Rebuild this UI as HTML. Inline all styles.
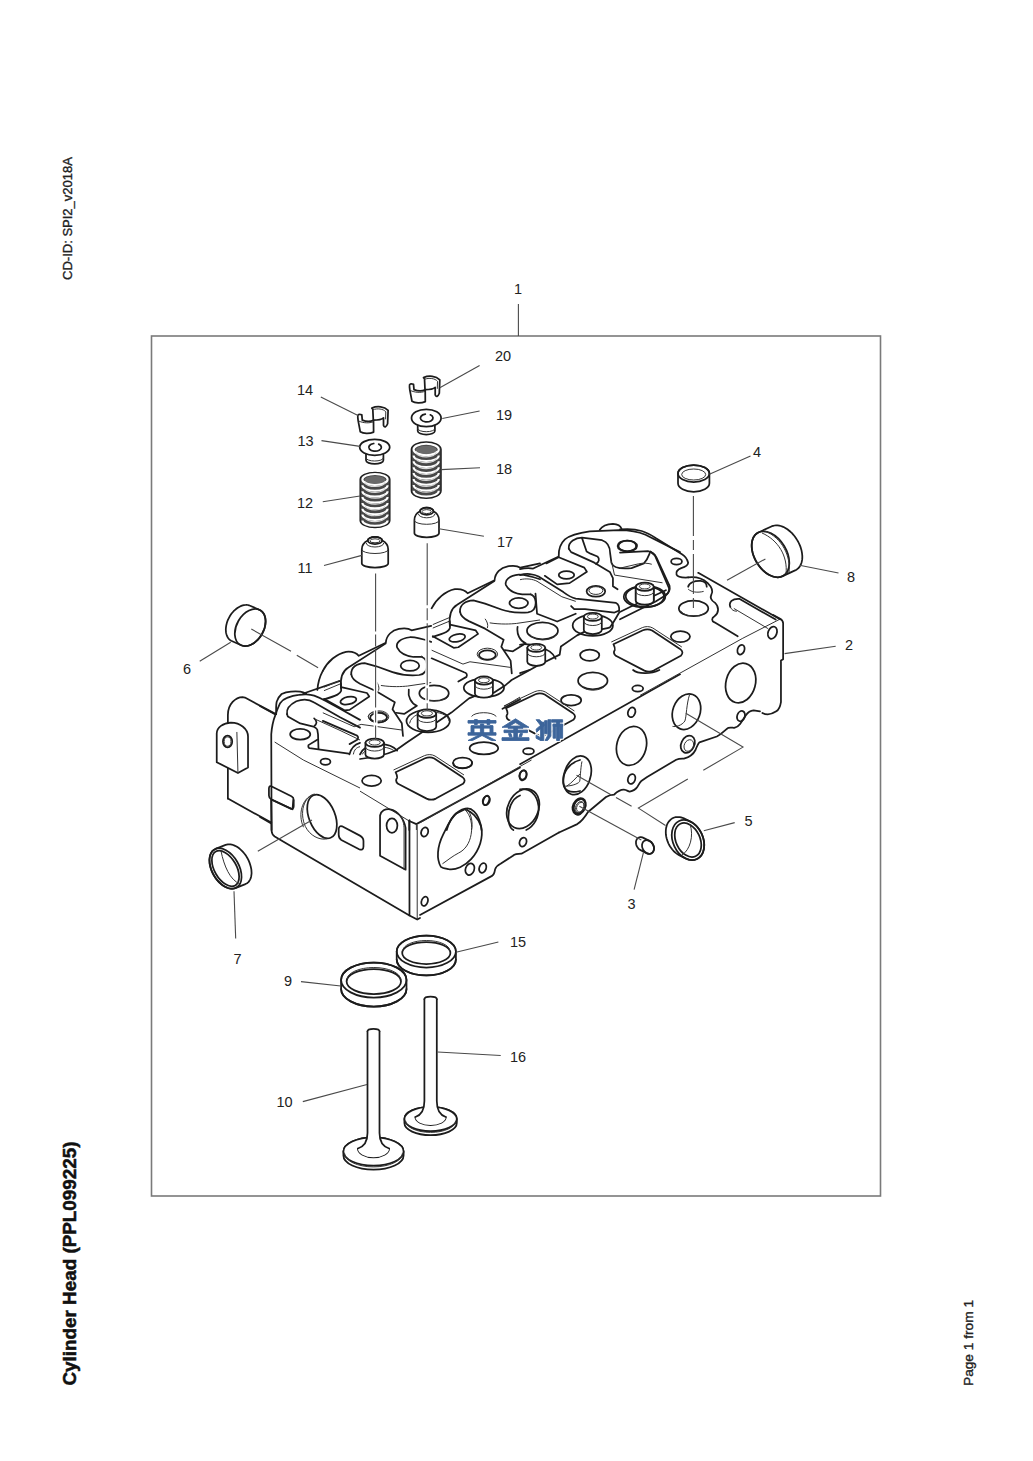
<!DOCTYPE html>
<html><head><meta charset="utf-8">
<style>
html,body{margin:0;padding:0;background:#fff;}
body{width:1033px;height:1461px;overflow:hidden;position:relative;}
svg{position:absolute;left:0;top:0;}
text{font-family:"Liberation Sans",sans-serif;}
.d{fill:none;stroke:#1c1c1c;stroke-width:1.75;stroke-linejoin:round;stroke-linecap:round;}
.f{fill:#fff;stroke:none;}
.w{fill:#fff;stroke:#1c1c1c;stroke-width:1.75;stroke-linejoin:round;}
.t{fill:none;stroke:#333;stroke-width:1;}
.l{fill:none;stroke:#4a4a4a;stroke-width:1.1;}
.n{font-size:14.5px;fill:#222;}
</style></head><body>
<svg width="1033" height="1461" viewBox="0 0 1033 1461">
<!-- side texts -->
<text transform="translate(71.6,280) rotate(-90)" font-size="13.5" fill="#222" stroke="#222" stroke-width="0.35" textLength="123" lengthAdjust="spacingAndGlyphs">CD-ID: SPI2_v2018A</text>
<text transform="translate(76,1385.5) rotate(-90)" font-size="18.5" font-weight="bold" fill="#111" stroke="#111" stroke-width="0.5" textLength="244" lengthAdjust="spacingAndGlyphs">Cylinder Head (PPL099225)</text>
<text transform="translate(973,1386) rotate(-90)" font-size="13.5" fill="#222" stroke="#222" stroke-width="0.35" textLength="86" lengthAdjust="spacingAndGlyphs">Page 1 from 1</text>
<!-- frame -->
<rect x="151.5" y="336" width="729" height="860" fill="none" stroke="#7a7a7a" stroke-width="1.6"/>
<line class="l" x1="518.4" y1="304" x2="518.4" y2="336"/>
<!-- labels -->
<g class="n">
<text x="514" y="294">1</text>
<text x="845" y="650">2</text>
<text x="627.5" y="909">3</text>
<text x="753" y="457">4</text>
<text x="744.5" y="826">5</text>
<text x="183" y="673.5">6</text>
<text x="233.5" y="964">7</text>
<text x="847" y="582">8</text>
<text x="284" y="986">9</text>
<text x="276.5" y="1107">10</text>
<text x="297.5" y="573">11</text>
<text x="297" y="507.5">12</text>
<text x="297.5" y="446">13</text>
<text x="297" y="394.5">14</text>
<text x="510" y="946.5">15</text>
<text x="510" y="1062">16</text>
<text x="497" y="547">17</text>
<text x="496" y="474">18</text>
<text x="496" y="420">19</text>
<text x="495" y="361">20</text>
</g>
<g transform="translate(0,0) scale(1.000000)">
<path class="d" vector-effect="non-scaling-stroke" d="M360,759 C369,758 383,756 395.6,750.5 L406.5,742.8 L451.4,712.6 L469,698.4 L480.7,693.6 L494.2,692.6 L505.8,684.9 L511.6,680 L527.1,671.4 L536.5,666.2 L559.7,654.6 L560.9,646.5 L577.1,635.4 L585.3,631.4 C595,630 605,629 610,627.3 C614,622 617,616 619.4,612.3 L631,606.5 L665.9,590.2"/>
</g>
<g transform="translate(200,670) scale(0.154895)">
<path class="f" vector-effect="non-scaling-stroke" d="M180,830 L180,290 C180,220 230,175 275,175 L290,178 L490,285 L462,1033 L460,985 Z"/>
<path class="d" vector-effect="non-scaling-stroke" d="M180,830 L180,290 C180,220 230,175 275,175 L290,178 L490,285"/>
<path class="d" vector-effect="non-scaling-stroke" d="M180,830 L460,985"/>
<path class="w" vector-effect="non-scaling-stroke" d="M108,410 C108,370 150,342 200,340 C260,340 310,380 310,430 L310,630 L245,665 L108,595 Z"/>
<path class="t" vector-effect="non-scaling-stroke" d="M238,400 L245,665"/>
<path class="d" vector-effect="non-scaling-stroke" d="M148,462 A30,38 0 1 0 208,462 A30,38 0 1 0 148,462Z"/>
<path class="t" vector-effect="non-scaling-stroke" d="M156,462 A22,30 0 1 0 200,462 A22,30 0 1 0 156,462Z"/>
<path class="d" vector-effect="non-scaling-stroke" d="M462,1033 L460,415 C465,350 475,320 487,290 C500,250 510,230 517,215 C530,195 545,186 562,180 C590,168 615,162 637,160 C660,157 675,156 687,157 C705,158 720,160 737,165 C765,175 790,188 812,200 L904,250 L1033,322"/>
<path class="d" vector-effect="non-scaling-stroke" d="M492,285 C490,240 493,215 495,205 C505,180 515,165 527,155 C545,145 565,140 587,139 C615,138 635,138 647,140 C665,143 677,149 687,154"/>
<path class="d" vector-effect="non-scaling-stroke" d="M387,232 L487,287"/>
<path class="d" vector-effect="non-scaling-stroke" d="M667,152 L904,70"/>
<path class="d" vector-effect="non-scaling-stroke" d="M562,285 C557,255 577,225 622,202 C667,185 707,190 737,210 L904,305 L1033,372"/>
<path class="d" vector-effect="non-scaling-stroke" d="M562,285 L567,300 L647,345 L732,365 C745,372 755,378 757,385 L762,415 L765,510"/>
<path class="d" vector-effect="non-scaling-stroke" d="M757,450 L700,485 C698,495 700,502 707,505 L960,540"/>
<path class="d" vector-effect="non-scaling-stroke" d="M737,312 C745,318 752,330 752,340 C750,350 745,356 740,360"/>
<path class="t" vector-effect="non-scaling-stroke" d="M745,318 L904,390 L1033,452"/>
<path class="d" vector-effect="non-scaling-stroke" d="M582,415 A65,35 0 1 0 712,415 A65,35 0 1 0 582,415Z"/>
<path class="t" vector-effect="non-scaling-stroke" d="M482,465 L667,581 L1033,762"/>
<path class="d" vector-effect="non-scaling-stroke" d="M778,592 A32,20 0 1 0 842,592 A32,20 0 1 0 778,592Z"/>
<path class="d" vector-effect="non-scaling-stroke" d="M965,545 C975,500 1000,480 1033,470"/>
<path class="t" vector-effect="non-scaling-stroke" d="M990,545 C995,515 1010,500 1033,495"/>
<path class="d" vector-effect="non-scaling-stroke" d="M460,750 L590,815 C600,820 605,830 605,840 L605,880 C605,895 595,900 585,895 L460,835 C450,830 445,820 445,810 L445,765 C445,750 455,748 460,750 Z"/>
<path class="d" vector-effect="non-scaling-stroke" d="M710.1,977.5 A84,148 -22 1 0 865.9,914.5 A84,148 -22 1 0 710.1,977.5Z"/>
<path class="t" vector-effect="non-scaling-stroke" d="M740,800 C670,820 640,920 680,1010 C710,1070 770,1100 820,1090"/>
<path class="t" vector-effect="non-scaling-stroke" d="M728,805 C660,830 630,930 668,1015"/>
</g>
<g transform="translate(360,670) scale(0.154895)">
<path class="d" vector-effect="non-scaling-stroke" d="M0,545 C30,470 180,455 240,520"/>
<path class="t" vector-effect="non-scaling-stroke" d="M15,545 C40,490 170,480 225,525"/>
<path class="d" vector-effect="non-scaling-stroke" d="M300,330 A140,72 0 1 0 580,330 A140,72 0 1 0 300,330Z"/>
<path class="t" vector-effect="non-scaling-stroke" d="M320,345 C330,290 400,270 470,272 C540,275 570,300 575,330"/>
<path class="d" vector-effect="non-scaling-stroke" d="M670,115 A130,60 0 1 0 930,115 A130,60 0 1 0 670,115Z"/>
<path class="d" vector-effect="non-scaling-stroke" d="M383,150 A95,50 0 1 0 573,150 A95,50 0 1 0 383,150Z"/>
<path class="t" vector-effect="non-scaling-stroke" d="M385,160 C400,190 450,200 500,198 C540,195 565,185 570,170"/>
<path class="t" vector-effect="non-scaling-stroke" d="M53,300 A62,30 0 1 0 177,300 A62,30 0 1 0 53,300Z"/>
<path class="f" vector-effect="non-scaling-stroke" d="M35,470 A60,27.0 0 0 1 155,470 L155,545 A60,27.0 0 0 1 35,545 Z"/>
<path class="d" vector-effect="non-scaling-stroke" d="M35,470 L35,545 A60,27.0 0 0 0 155,545 L155,470"/>
<path class="d" vector-effect="non-scaling-stroke" d="M35,470 A60,27.0 0 1 0 155,470 A60,27.0 0 1 0 35,470Z"/>
<path class="t" vector-effect="non-scaling-stroke" d="M59.0,468 A36.0,16.8 0 1 0 131.0,468 A36.0,16.8 0 1 0 59.0,468Z"/>
<path class="t" vector-effect="non-scaling-stroke" d="M35,496.25 A60,27.0 0 0 0 155,496.25"/>
<path class="f" vector-effect="non-scaling-stroke" d="M372,282 A60,27.0 0 0 1 492,282 L492,367 A60,27.0 0 0 1 372,367 Z"/>
<path class="d" vector-effect="non-scaling-stroke" d="M372,282 L372,367 A60,27.0 0 0 0 492,367 L492,282"/>
<path class="d" vector-effect="non-scaling-stroke" d="M372,282 A60,27.0 0 1 0 492,282 A60,27.0 0 1 0 372,282Z"/>
<path class="t" vector-effect="non-scaling-stroke" d="M396.0,280 A36.0,16.8 0 1 0 468.0,280 A36.0,16.8 0 1 0 396.0,280Z"/>
<path class="t" vector-effect="non-scaling-stroke" d="M372,311.75 A60,27.0 0 0 0 492,311.75"/>
<path class="f" vector-effect="non-scaling-stroke" d="M742,68 A58,26.1 0 0 1 858,68 L858,153 A58,26.1 0 0 1 742,153 Z"/>
<path class="d" vector-effect="non-scaling-stroke" d="M742,68 L742,153 A58,26.1 0 0 0 858,153 L858,68"/>
<path class="d" vector-effect="non-scaling-stroke" d="M742,68 A58,26.1 0 1 0 858,68 A58,26.1 0 1 0 742,68Z"/>
<path class="t" vector-effect="non-scaling-stroke" d="M765.2,66 A34.8,16.240000000000002 0 1 0 834.8,66 A34.8,16.240000000000002 0 1 0 765.2,66Z"/>
<path class="t" vector-effect="non-scaling-stroke" d="M742,97.75 A58,26.1 0 0 0 858,97.75"/>
<path class="d" vector-effect="non-scaling-stroke" d="M13,715 A62,35 0 1 0 137,715 A62,35 0 1 0 13,715Z"/>
<path class="d" vector-effect="non-scaling-stroke" d="M600,600 A62,35 0 1 0 724,600 A62,35 0 1 0 600,600Z"/>
<path class="d" vector-effect="non-scaling-stroke" d="M708,505 A92,40 0 1 0 892,505 A92,40 0 1 0 708,505Z"/>
<path class="t" vector-effect="non-scaling-stroke" d="M720,300 C740,270 850,265 880,300"/>
<path class="d" vector-effect="non-scaling-stroke" d="M920,250 L1033,190"/>
<path class="t" vector-effect="non-scaling-stroke" d="M930,235 L1033,175"/>
<path class="t" vector-effect="non-scaling-stroke" d="M0,782 L318,975"/>
<path class="d" vector-effect="non-scaling-stroke" d="M318,975 L364,995 L1033,630"/>
<path class="d" vector-effect="non-scaling-stroke" d="M318,975 L318,1033"/>
<path class="t" vector-effect="non-scaling-stroke" d="M364,995 L364,1033"/>
<path class="d" vector-effect="non-scaling-stroke" d="M560,1033 C580,960 620,910 680,895 C720,885 760,920 780,1000 L785,1033"/>
<path class="t" vector-effect="non-scaling-stroke" d="M690,895 C720,930 730,990 720,1033"/>
<path class="d" vector-effect="non-scaling-stroke" d="M798.1,835.8 A18,32 20 1 0 831.9,848.2 A18,32 20 1 0 798.1,835.8Z"/>
<path class="d" vector-effect="non-scaling-stroke" d="M1033,810 C980,830 950,900 960,980 C965,1010 975,1025 990,1033"/>
</g>
<g transform="translate(520,670) scale(0.154895)">
<path class="d" vector-effect="non-scaling-stroke" d="M375,70 A95,55 0 1 0 565,70 A95,55 0 1 0 375,70Z"/>
<path class="t" vector-effect="non-scaling-stroke" d="M385,90 C400,120 440,130 470,130 C510,130 545,115 555,95"/>
<path class="d" vector-effect="non-scaling-stroke" d="M725,120 A35,20 0 1 0 795,120 A35,20 0 1 0 725,120Z"/>
<path class="d" vector-effect="non-scaling-stroke" d="M265,195 A65,35 0 1 0 395,195 A65,35 0 1 0 265,195Z"/>
<path class="d" vector-effect="non-scaling-stroke" d="M20,525 A35,20 0 1 0 90,525 A35,20 0 1 0 20,525Z"/>
<path class="d" vector-effect="non-scaling-stroke" d="M730,0 C760,25 840,30 900,0"/>
<path class="d" vector-effect="non-scaling-stroke" d="M0,608 L1033,28"/>
<path class="d" vector-effect="non-scaling-stroke" d="M0,20 L60,0"/>
<path class="d" vector-effect="non-scaling-stroke" d="M0,770 C60,760 110,800 120,880 C125,950 90,1010 40,1033"/>
<path class="d" vector-effect="non-scaling-stroke" d="M-1.3,674.3 A22,33 15 1 0 41.3,685.7 A22,33 15 1 0 -1.3,674.3Z"/>
<path class="d" vector-effect="non-scaling-stroke" d="M289.2,653.7 A85,125 18 1 0 450.8,706.3 A85,125 18 1 0 289.2,653.7Z"/>
<path class="t" vector-effect="non-scaling-stroke" d="M400,590 C390,640 390,700 385,720 C370,740 320,750 290,750"/>
<path class="d" vector-effect="non-scaling-stroke" d="M628.2,465.4 A95,128 15 1 0 811.8,514.6 A95,128 15 1 0 628.2,465.4Z"/>
<path class="d" vector-effect="non-scaling-stroke" d="M345.7,863.1 A40,55 25 1 0 418.3,896.9 A40,55 25 1 0 345.7,863.1Z"/>
<path class="t" vector-effect="non-scaling-stroke" d="M362.3,874.4 A25,38 25 1 0 407.7,895.6 A25,38 25 1 0 362.3,874.4Z"/>
</g>
<g transform="translate(640,580) scale(0.154895)">
<path class="d" vector-effect="non-scaling-stroke" d="M860,226 L905,250 C918,258 924,265 924,280 L924,511 L910,520 L910,788 C905,820 895,838 880,848 C850,868 815,872 790,858"/>
<path class="t" vector-effect="non-scaling-stroke" d="M0,745 L660,378 L905,252"/>
<path class="d" vector-effect="non-scaling-stroke" d="M828.7,330.4 A28,40 20 1 0 881.3,349.6 A28,40 20 1 0 828.7,330.4Z"/>
<path class="d" vector-effect="non-scaling-stroke" d="M631.3,442.5 A22,32 20 1 0 672.7,457.5 A22,32 20 1 0 631.3,442.5Z"/>
<path class="d" vector-effect="non-scaling-stroke" d="M558.2,640.4 A95,130 15 1 0 741.8,689.6 A95,130 15 1 0 558.2,640.4Z"/>
<path class="d" vector-effect="non-scaling-stroke" d="M217.3,819.9 A88,118 20 1 0 382.7,880.1 A88,118 20 1 0 217.3,819.9Z"/>
<path class="t" vector-effect="non-scaling-stroke" d="M320,740 C300,800 300,880 290,910 C270,940 230,950 210,945"/>
</g>
<g transform="translate(260,800) scale(0.154895)">
<path class="d" vector-effect="non-scaling-stroke" d="M72,0 L75,200 C76,215 80,225 95,235 L152,270 L965,745 L1015,772 L1033,762"/>
<path class="d" vector-effect="non-scaling-stroke" d="M965,130 L965,745"/>
<path class="t" vector-effect="non-scaling-stroke" d="M1015,160 L1015,772"/>
<path class="d" vector-effect="non-scaling-stroke" d="M0,110 L70,150"/>
<path class="d" vector-effect="non-scaling-stroke" d="M775,100 C780,70 810,55 840,60 C890,70 930,120 940,180 L940,450 L775,360 Z"/>
<path class="t" vector-effect="non-scaling-stroke" d="M880,75 C915,100 928,140 930,180 L930,450"/>
<path class="d" vector-effect="non-scaling-stroke" d="M817,165 A35,47 0 1 0 887,165 A35,47 0 1 0 817,165Z"/>
<path class="d" vector-effect="non-scaling-stroke" d="M530,170 L645,230 C660,238 668,250 668,265 L668,300 C668,320 655,325 640,318 L525,258 C512,250 508,240 508,225 L508,190 C508,172 518,165 530,170 Z"/>
<path class="d" vector-effect="non-scaling-stroke" d="M80,0 L210,60 L215,0"/>
</g>
<g transform="translate(420,760) scale(0.154895)">
<path class="d" vector-effect="non-scaling-stroke" d="M0,1000 L465,748 C480,740 482,720 485,705 C490,690 500,680 520,670 L600,618 C615,605 635,605 655,605 L897,468"/>
<path class="t" vector-effect="non-scaling-stroke" d="M0,405 L720,0"/>
<path class="d" vector-effect="non-scaling-stroke" d="M215,20 C220,45 250,55 280,52 C320,50 340,35 335,10"/>
<path class="d" vector-effect="non-scaling-stroke" d="M9.3,457.5 A22,30 20 1 0 50.7,472.5 A22,30 20 1 0 9.3,457.5Z"/>
<path class="d" vector-effect="non-scaling-stroke" d="M407.3,254.5 A22,30 20 1 0 448.7,269.5 A22,30 20 1 0 407.3,254.5Z"/>
<path class="d" vector-effect="non-scaling-stroke" d="M644.3,89.5 A22,30 20 1 0 685.7,104.5 A22,30 20 1 0 644.3,89.5Z"/>
<path class="d" vector-effect="non-scaling-stroke" d="M644.3,522.5 A22,30 20 1 0 685.7,537.5 A22,30 20 1 0 644.3,522.5Z"/>
<path class="d" vector-effect="non-scaling-stroke" d="M295.7,695.4 A28,38 20 1 0 348.3,714.6 A28,38 20 1 0 295.7,695.4Z"/>
<path class="d" vector-effect="non-scaling-stroke" d="M384.3,689.5 A22,32 20 1 0 425.7,704.5 A22,32 20 1 0 384.3,689.5Z"/>
<path class="d" vector-effect="non-scaling-stroke" d="M11.2,905.2 A20,30 20 1 0 48.8,918.8 A20,30 20 1 0 11.2,905.2Z"/>
<path class="d" vector-effect="non-scaling-stroke" d="M135,690 C105,640 110,560 150,480 C180,420 200,370 235,345 L290,318 C330,330 375,370 395,430 C410,500 385,580 330,640 C290,685 230,712 185,705 C160,700 145,698 135,690 Z"/>
<path class="t" vector-effect="non-scaling-stroke" d="M290,320 C330,360 340,420 330,480 C320,540 290,580 250,600 C210,620 175,650 145,670"/>
<path class="d" vector-effect="non-scaling-stroke" d="M576.2,273.6 A98,130 25 1 0 753.8,356.4 A98,130 25 1 0 576.2,273.6Z"/>
<path class="d" vector-effect="non-scaling-stroke" d="M1033,0 C960,20 920,80 925,150 C930,200 970,215 1033,200"/>
<path class="t" vector-effect="non-scaling-stroke" d="M945,170 C980,150 1010,110 1033,90"/>
<path class="d" vector-effect="non-scaling-stroke" d="M1033,255 C1000,260 985,300 995,335 C1005,355 1020,355 1033,350"/>
</g>
<g transform="translate(520,510) scale(0.154895)">
<path class="d" vector-effect="non-scaling-stroke" d="M0,382 C30,375 60,375 85,378 L250,300 C248,260 258,220 290,190 C320,165 360,150 450,138 L640,130 C700,130 760,138 810,160 L1033,272"/>
<path class="d" vector-effect="non-scaling-stroke" d="M515,128 C530,105 560,92 600,90 C630,92 650,105 655,120"/>
<path class="d" vector-effect="non-scaling-stroke" d="M315,250 C310,205 360,178 400,178 L530,195 C568,208 582,240 582,280 L590,340 C600,370 650,382 720,375 L800,345 C825,320 832,290 842,268 L870,292 L962,505 C965,525 955,545 930,555"/>
<path class="d" vector-effect="non-scaling-stroke" d="M400,180 L430,268 L455,282 L500,300 C515,315 512,335 490,348"/>
<path class="d" vector-effect="non-scaling-stroke" d="M315,250 L330,272 L480,340 L580,400 L600,440 L600,492 L630,512"/>
<path class="t" vector-effect="non-scaling-stroke" d="M590,330 L610,420 L920,470"/>
<path class="d" vector-effect="non-scaling-stroke" d="M0,420 C40,408 90,412 120,430 L280,530 C300,545 330,565 360,572 L620,600 C640,610 642,630 640,650 L610,662 L420,640 L350,640 L330,620"/>
<path class="t" vector-effect="non-scaling-stroke" d="M0,450 C40,440 80,445 110,460 L270,560 L360,590"/>
<path class="d" vector-effect="non-scaling-stroke" d="M100,540 L110,670 L240,720 L360,670"/>
<path class="d" vector-effect="non-scaling-stroke" d="M170,345 L250,305 L415,372 L432,398 L320,472 L240,480 L160,425"/>
<path class="d" vector-effect="non-scaling-stroke" d="M250,420 A50,25 0 1 0 350,420 A50,25 0 1 0 250,420Z"/>
<path class="d" vector-effect="non-scaling-stroke" d="M430,525 A60,35 0 1 0 550,525 A60,35 0 1 0 430,525Z"/>
<path class="t" vector-effect="non-scaling-stroke" d="M445,520 A45,25 0 1 0 535,520 A45,25 0 1 0 445,520Z"/>
<path class="d" vector-effect="non-scaling-stroke" d="M630,232 A60,35 0 1 0 750,232 A60,35 0 1 0 630,232Z"/>
<path class="d" vector-effect="non-scaling-stroke" d="M45,780 A100,55 0 1 0 245,780 A100,55 0 1 0 45,780Z"/>
<path class="t" vector-effect="non-scaling-stroke" d="M60,800 C80,830 120,840 160,838 C200,835 230,820 240,800"/>
<path class="d" vector-effect="non-scaling-stroke" d="M670,560 A130,68 0 1 0 930,560 A130,68 0 1 0 670,560Z"/>
<path class="d" vector-effect="non-scaling-stroke" d="M340,745 A130,68 0 1 0 600,745 A130,68 0 1 0 340,745Z"/>
<path class="d" vector-effect="non-scaling-stroke" d="M0,870 C40,860 200,880 230,960"/>
<path class="f" vector-effect="non-scaling-stroke" d="M747,500 A58,26.1 0 0 1 863,500 L863,585 A58,26.1 0 0 1 747,585 Z"/>
<path class="d" vector-effect="non-scaling-stroke" d="M747,500 L747,585 A58,26.1 0 0 0 863,585 L863,500"/>
<path class="d" vector-effect="non-scaling-stroke" d="M747,500 A58,26.1 0 1 0 863,500 A58,26.1 0 1 0 747,500Z"/>
<path class="t" vector-effect="non-scaling-stroke" d="M770.2,498 A34.8,16.240000000000002 0 1 0 839.8,498 A34.8,16.240000000000002 0 1 0 770.2,498Z"/>
<path class="t" vector-effect="non-scaling-stroke" d="M747,529.75 A58,26.1 0 0 0 863,529.75"/>
<path class="f" vector-effect="non-scaling-stroke" d="M412,690 A58,26.1 0 0 1 528,690 L528,775 A58,26.1 0 0 1 412,775 Z"/>
<path class="d" vector-effect="non-scaling-stroke" d="M412,690 L412,775 A58,26.1 0 0 0 528,775 L528,690"/>
<path class="d" vector-effect="non-scaling-stroke" d="M412,690 A58,26.1 0 1 0 528,690 A58,26.1 0 1 0 412,690Z"/>
<path class="t" vector-effect="non-scaling-stroke" d="M435.2,688 A34.8,16.240000000000002 0 1 0 504.8,688 A34.8,16.240000000000002 0 1 0 435.2,688Z"/>
<path class="t" vector-effect="non-scaling-stroke" d="M412,719.75 A58,26.1 0 0 0 528,719.75"/>
<path class="f" vector-effect="non-scaling-stroke" d="M47,890 A58,26.1 0 0 1 163,890 L163,980 A58,26.1 0 0 1 47,980 Z"/>
<path class="d" vector-effect="non-scaling-stroke" d="M47,890 L47,980 A58,26.1 0 0 0 163,980 L163,890"/>
<path class="d" vector-effect="non-scaling-stroke" d="M47,890 A58,26.1 0 1 0 163,890 A58,26.1 0 1 0 47,890Z"/>
<path class="t" vector-effect="non-scaling-stroke" d="M70.2,888 A34.8,16.240000000000002 0 1 0 139.8,888 A34.8,16.240000000000002 0 1 0 70.2,888Z"/>
<path class="t" vector-effect="non-scaling-stroke" d="M47,921.5 A58,26.1 0 0 0 163,921.5"/>
<path class="d" vector-effect="non-scaling-stroke" d="M388,938 A62,36 0 1 0 512,938 A62,36 0 1 0 388,938Z"/>
</g>
<g transform="translate(620,500) scale(0.154895)">
<path class="d" vector-effect="non-scaling-stroke" d="M0,190 C50,185 100,188 140,200 C180,212 200,225 230,245 L400,350 C425,365 435,385 440,405 C440,425 420,432 395,440 C370,450 360,465 365,482 C372,498 400,502 440,500"/>
<path class="d" vector-effect="non-scaling-stroke" d="M505,470 L1033,770"/>
<path class="d" vector-effect="non-scaling-stroke" d="M440,500 C480,495 530,505 565,535 C590,560 605,585 590,610 C580,630 590,650 615,665 C640,690 640,730 610,750 C590,762 590,780 610,790 L760,880"/>
<path class="d" vector-effect="non-scaling-stroke" d="M330,397 A35,20 0 1 0 400,397 A35,20 0 1 0 330,397Z"/>
<path class="d" vector-effect="non-scaling-stroke" d="M380,700 A95,50 0 1 0 570,700 A95,50 0 1 0 380,700Z"/>
<path class="t" vector-effect="non-scaling-stroke" d="M390,715 C410,740 440,748 475,748 C515,748 545,738 560,718"/>
<path class="d" vector-effect="non-scaling-stroke" d="M440,560 C445,535 480,520 520,522 C550,525 560,545 560,560"/>
<path class="t" vector-effect="non-scaling-stroke" d="M440,575 C460,595 500,600 540,590"/>
<path class="d" vector-effect="non-scaling-stroke" d="M712,690 C700,660 725,635 770,638 L1005,772"/>
<path class="t" vector-effect="non-scaling-stroke" d="M735,700 L955,830"/>
<path class="t" vector-effect="non-scaling-stroke" d="M712,690 C720,710 735,718 755,718"/>
<path class="d" vector-effect="non-scaling-stroke" d="M328,882 A62,36 0 1 0 452,882 A62,36 0 1 0 328,882Z"/>
<path class="d" vector-effect="non-scaling-stroke" d="M0,340 L180,330 C205,335 225,350 235,370 L320,555 C325,580 315,600 295,615 L230,655 L0,770"/>
<path class="t" vector-effect="non-scaling-stroke" d="M0,440 L120,412 C150,405 185,408 205,415"/>
<path class="d" vector-effect="non-scaling-stroke" d="M37,622 A128,68 0 1 0 293,622 A128,68 0 1 0 37,622Z"/>
<path class="f" vector-effect="non-scaling-stroke" d="M102,560 A58,26.1 0 0 1 218,560 L218,650 A58,26.1 0 0 1 102,650 Z"/>
<path class="d" vector-effect="non-scaling-stroke" d="M102,560 L102,650 A58,26.1 0 0 0 218,650 L218,560"/>
<path class="d" vector-effect="non-scaling-stroke" d="M102,560 A58,26.1 0 1 0 218,560 A58,26.1 0 1 0 102,560Z"/>
<path class="t" vector-effect="non-scaling-stroke" d="M125.2,558 A34.8,16.240000000000002 0 1 0 194.8,558 A34.8,16.240000000000002 0 1 0 125.2,558Z"/>
<path class="t" vector-effect="non-scaling-stroke" d="M102,591.5 A58,26.1 0 0 0 218,591.5"/>
<path class="d" vector-effect="non-scaling-stroke" d="M-10,297 A60,35 0 1 0 110,297 A60,35 0 1 0 -10,297Z"/>
</g>
<g transform="translate(0,0) scale(1.000000)">
<path class="d" vector-effect="non-scaling-stroke" d="M559,832.5 L577.3,824.1 C582,821 585,817 588,812 L606,797 C609,795 611,794.5 614.2,794.5 C618,791 620,789.5 623.9,789.7 C627,790 628,791.5 629.7,791.6 C633,791 636,789 637.4,786.8 C639,784 640,782 641.3,781 L647.1,777.1 L676.2,759.7 C679,758.5 681,758.7 683.9,758.7 C690,757 694,753 695.5,750 C697,746 698,743.5 699.4,742.3 L716.8,736.5 C722,734 726,729 728.4,727.8 C731,727 733,728 734.2,727.8 C737,727 739,725.5 740.1,723.9 L745.9,715.2 C748,712 751,710.5 753.6,710.3 L760,711.3"/>
<path class="d" vector-effect="non-scaling-stroke" d="M628.2,711.1 A3.6,5 20 1 0 635.0,713.5 A3.6,5 20 1 0 628.2,711.1Z"/>
<path class="d" vector-effect="non-scaling-stroke" d="M628.2,777.8 A3.6,5 20 1 0 635.0,780.2 A3.6,5 20 1 0 628.2,777.8Z"/>
<path class="d" vector-effect="non-scaling-stroke" d="M737.4,714.8 A3.8,5.2 20 1 0 744.6,717.4 A3.8,5.2 20 1 0 737.4,714.8Z"/>
<path class="d" vector-effect="non-scaling-stroke" d="M574.4,803.9 A5.5,7.5 25 1 0 584.4,808.5 A5.5,7.5 25 1 0 574.4,803.9Z"/>
<path class="t" vector-effect="non-scaling-stroke" d="M577.2,805.7 A3.5,5 25 1 0 583.6,808.7 A3.5,5 25 1 0 577.2,805.7Z"/>
<path class="d" vector-effect="non-scaling-stroke" d="M681.9,741.5 A6.5,8.5 25 1 0 693.7,746.9 A6.5,8.5 25 1 0 681.9,741.5Z"/>
<path class="t" vector-effect="non-scaling-stroke" d="M684.7,743.6 A4.5,6 25 1 0 692.9,747.4 A4.5,6 25 1 0 684.7,743.6Z"/>
</g>
<g transform="translate(311.2,632.6) scale(0.116171)">
<path class="d" vector-effect="non-scaling-stroke" d="M100,330 C140,250 220,180 300,165 C350,160 390,175 410,200 L642,88 C646,22 696,-20 755,-32 C805,-41 847,-32 864,-20 L1033,-57"/>
<path class="d" vector-effect="non-scaling-stroke" d="M258,480 C248,400 262,335 320,300 L640,95"/>
<path class="d" vector-effect="non-scaling-stroke" d="M345,360 C340,300 390,265 460,262 L560,290 L700,340 C760,360 850,372 930,365 C985,355 1000,320 995,270 C990,235 970,215 950,210 L880,210 C800,200 760,170 740,130 C725,85 770,50 850,40 C900,38 960,55 1033,80"/>
<path class="d" vector-effect="non-scaling-stroke" d="M345,360 C350,400 380,420 420,440 L560,505 L720,600 L700,660 L780,780 L790,890"/>
<path class="t" vector-effect="non-scaling-stroke" d="M100,690 L370,810 L430,790 L790,840"/>
<path class="d" vector-effect="non-scaling-stroke" d="M100,760 L380,880 C400,885 410,900 400,920 L330,960"/>
<path class="d" vector-effect="non-scaling-stroke" d="M110,570 L290,670 L330,665 L500,550 L480,520 L258,470"/>
<path class="t" vector-effect="non-scaling-stroke" d="M110,470 L252,410"/>
<path class="t" vector-effect="non-scaling-stroke" d="M110,500 L255,440"/>
<path class="d" vector-effect="non-scaling-stroke" d="M255,440 L258,500 C250,525 230,540 110,575"/>
<path class="d" vector-effect="non-scaling-stroke" d="M251.5,599.6 A70,32 -12 1 0 388.5,570.4 A70,32 -12 1 0 251.5,599.6Z"/>
<path class="t" vector-effect="non-scaling-stroke" d="M560,420 C575,440 590,470 580,500"/>
<path class="t" vector-effect="non-scaling-stroke" d="M492,725 A88,52 0 1 0 668,725 A88,52 0 1 0 492,725Z"/>
<path class="d" vector-effect="non-scaling-stroke" d="M508,732 A72,40 0 1 0 652,732 A72,40 0 1 0 508,732Z"/>
<path class="d" vector-effect="non-scaling-stroke" d="M770,285 A80,45 0 1 0 930,285 A80,45 0 1 0 770,285Z"/>
<path class="t" vector-effect="non-scaling-stroke" d="M600,455 C700,470 780,465 830,460 L1033,430"/>
<path class="d" vector-effect="non-scaling-stroke" d="M840,490 C830,550 860,610 910,630 L800,700 L730,690"/>
<path class="t" vector-effect="non-scaling-stroke" d="M950,200 C965,215 985,230 1000,240"/>
</g>
<g transform="translate(420,570) scale(0.116171)">
<path class="d" vector-effect="non-scaling-stroke" d="M100,330 C140,250 220,180 300,165 C350,160 390,175 410,200 L642,88 C646,22 696,-20 755,-32 C805,-41 847,-32 864,-20 L1033,-57"/>
<path class="d" vector-effect="non-scaling-stroke" d="M258,480 C248,400 262,335 320,300 L640,95"/>
<path class="d" vector-effect="non-scaling-stroke" d="M345,360 C340,300 390,265 460,262 L560,290 L700,340 C760,360 850,372 930,365 C985,355 1000,320 995,270 C990,235 970,215 950,210 L880,210 C800,200 760,170 740,130 C725,85 770,50 850,40 C900,38 960,55 1033,80"/>
<path class="d" vector-effect="non-scaling-stroke" d="M345,360 C350,400 380,420 420,440 L560,505 L720,600 L700,660 L780,780 L790,890"/>
<path class="t" vector-effect="non-scaling-stroke" d="M100,690 L370,810 L430,790 L790,840"/>
<path class="d" vector-effect="non-scaling-stroke" d="M100,760 L380,880 C400,885 410,900 400,920 L330,960"/>
<path class="d" vector-effect="non-scaling-stroke" d="M110,570 L290,670 L330,665 L500,550 L480,520 L258,470"/>
<path class="t" vector-effect="non-scaling-stroke" d="M110,470 L252,410"/>
<path class="t" vector-effect="non-scaling-stroke" d="M110,500 L255,440"/>
<path class="d" vector-effect="non-scaling-stroke" d="M255,440 L258,500 C250,525 230,540 110,575"/>
<path class="d" vector-effect="non-scaling-stroke" d="M251.5,599.6 A70,32 -12 1 0 388.5,570.4 A70,32 -12 1 0 251.5,599.6Z"/>
<path class="t" vector-effect="non-scaling-stroke" d="M560,420 C575,440 590,470 580,500"/>
<path class="t" vector-effect="non-scaling-stroke" d="M492,725 A88,52 0 1 0 668,725 A88,52 0 1 0 492,725Z"/>
<path class="d" vector-effect="non-scaling-stroke" d="M508,732 A72,40 0 1 0 652,732 A72,40 0 1 0 508,732Z"/>
<path class="d" vector-effect="non-scaling-stroke" d="M770,285 A80,45 0 1 0 930,285 A80,45 0 1 0 770,285Z"/>
<path class="t" vector-effect="non-scaling-stroke" d="M600,455 C700,470 780,465 830,460 L1033,430"/>
<path class="d" vector-effect="non-scaling-stroke" d="M840,490 C830,550 860,610 910,630 L800,700 L730,690"/>
<path class="t" vector-effect="non-scaling-stroke" d="M950,200 C965,215 985,230 1000,240"/>
</g>
<g transform="translate(0,0) scale(1.000000)">
<path class="d" vector-effect="non-scaling-stroke" d="M317.4,690 C317.8,684 319.5,677 322.8,670.9"/>
</g>
<path class="w" d="M357.8,417.3 C357.3,414.3 359.3,413.8 361.8,414.8 L362.3,420.1 C366.3,421.8 370.3,421.8 373.5,420.3 L373.6,432.1 C369.3,434.1 363.3,433.8 360.3,431.8 L358.1,420.3 Z"/>
<path class="t" d="M358.3,420.8 C363.3,423.3 369.3,423.3 373.5,421.8"/>
<path class="w" d="M371.8,408.1 C377.3,405.7 384.3,406.5 388.1,410.3 L387.6,423.8 C386.3,427.3 384.3,427.8 383.5,425.3 L383.5,417.8 C381.3,419.8 376.3,420.1 373.3,420.1 L372.8,409.3 Z"/>
<path class="t" d="M372.8,409.8 C377.3,408.1 383.3,408.8 385.8,411.8 L385.6,419.3"/>
<path class="w" d="M409.5,386.8 C409.0,383.8 411.0,383.3 413.5,384.3 L414.0,389.6 C418.0,391.3 422.0,391.3 425.2,389.8 L425.3,401.6 C421.0,403.6 415.0,403.3 412.0,401.3 L409.8,389.8 Z"/>
<path class="t" d="M410.0,390.3 C415.0,392.8 421.0,392.8 425.2,391.3"/>
<path class="w" d="M423.5,377.6 C429.0,375.2 436.0,376.0 439.8,379.8 L439.3,393.3 C438.0,396.8 436.0,397.3 435.2,394.8 L435.2,387.3 C433.0,389.3 428.0,389.6 425.0,389.6 L424.5,378.8 Z"/>
<path class="t" d="M424.5,379.3 C429.0,377.6 435.0,378.3 437.5,381.3 L437.3,388.8"/>
<path class="w" d="M366.0,449.3 V460.3 A8.7,3.6 0 0 0 383.4,460.3 V449.3 Z"/>
<path class="t" d="M366.0,457.8 A8.7,3.2 0 0 0 383.4,457.8"/>
<ellipse class="w" cx="374.7" cy="447.3" rx="15" ry="8" />
<path class="d" d="M373.7,443.5 A6.3,3.9 0 1 0 378.7,444.1" stroke-width="1.3"/>
<path class="w" d="M417.716,420.0 V431.0 A8.584,3.6 0 0 0 434.884,431.0 V420.0 Z"/>
<path class="t" d="M417.716,428.5 A8.584,3.2 0 0 0 434.884,428.5"/>
<ellipse class="w" cx="426.3" cy="418.0" rx="14.8" ry="8.7" />
<path class="d" d="M425.3,414.2 A6.3,3.9 0 1 0 430.3,414.8" stroke-width="1.3"/>
<path fill="#484848" stroke="#1e1e1e" stroke-width="1.3" d="M360.1,479.5 A14.9,7.2 0 0 1 389.9,479.5 V520.45 A14.9,7.2 0 0 1 360.1,520.45 Z"/>
<ellipse cx="375" cy="480.3" rx="10.7" ry="4.2" fill="#6a6a6a"/>
<path d="M364.6,481.0 A10.4,3.8000000000000003 0 0 0 385.4,481.0" fill="none" stroke="#e0e0e0" stroke-width="1.3"/>
<ellipse cx="375" cy="479.5" rx="12.600000000000001" ry="5.4" fill="none" stroke="#fff" stroke-width="2.0"/>
<path d="M362.40000000000003,485.35 A12.600000000000001,5.4 0 0 0 387.59999999999997,485.35" fill="none" stroke="#fff" stroke-width="2.0"/>
<path d="M365.1,482.425 A9.9,4.2 0 0 0 384.9,482.13250000000005" fill="none" stroke="#d8d8d8" stroke-width="1.2"/>
<path d="M362.40000000000003,491.2 A12.600000000000001,5.4 0 0 0 387.59999999999997,491.2" fill="none" stroke="#fff" stroke-width="2.0"/>
<path d="M365.1,488.275 A9.9,4.2 0 0 0 384.9,487.9825" fill="none" stroke="#d8d8d8" stroke-width="1.2"/>
<path d="M362.40000000000003,497.05 A12.600000000000001,5.4 0 0 0 387.59999999999997,497.05" fill="none" stroke="#fff" stroke-width="2.0"/>
<path d="M365.1,494.125 A9.9,4.2 0 0 0 384.9,493.83250000000004" fill="none" stroke="#d8d8d8" stroke-width="1.2"/>
<path d="M362.40000000000003,502.9 A12.600000000000001,5.4 0 0 0 387.59999999999997,502.9" fill="none" stroke="#fff" stroke-width="2.0"/>
<path d="M365.1,499.97499999999997 A9.9,4.2 0 0 0 384.9,499.6825" fill="none" stroke="#d8d8d8" stroke-width="1.2"/>
<path d="M362.40000000000003,508.75 A12.600000000000001,5.4 0 0 0 387.59999999999997,508.75" fill="none" stroke="#fff" stroke-width="2.0"/>
<path d="M365.1,505.825 A9.9,4.2 0 0 0 384.9,505.5325" fill="none" stroke="#d8d8d8" stroke-width="1.2"/>
<path d="M362.40000000000003,514.6 A12.600000000000001,5.4 0 0 0 387.59999999999997,514.6" fill="none" stroke="#fff" stroke-width="2.0"/>
<path d="M365.1,511.675 A9.9,4.2 0 0 0 384.9,511.38250000000005" fill="none" stroke="#d8d8d8" stroke-width="1.2"/>
<path d="M362.40000000000003,520.45 A12.600000000000001,5.4 0 0 0 387.59999999999997,520.45" fill="none" stroke="#fff" stroke-width="2.0"/>
<path d="M365.1,517.5250000000001 A9.9,4.2 0 0 0 384.9,517.2325000000001" fill="none" stroke="#d8d8d8" stroke-width="1.2"/>
<path fill="#484848" stroke="#1e1e1e" stroke-width="1.3" d="M411.3,449.5 A14.9,7.5 0 0 1 441.09999999999997,449.5 V490.8 A14.9,7.5 0 0 1 411.3,490.8 Z"/>
<ellipse cx="426.2" cy="450.3" rx="10.7" ry="4.5" fill="#6a6a6a"/>
<path d="M415.8,451.0 A10.4,4.1 0 0 0 436.59999999999997,451.0" fill="none" stroke="#e0e0e0" stroke-width="1.3"/>
<ellipse cx="426.2" cy="449.5" rx="12.600000000000001" ry="5.7" fill="none" stroke="#fff" stroke-width="2.0"/>
<path d="M413.6,455.4 A12.600000000000001,5.7 0 0 0 438.79999999999995,455.4" fill="none" stroke="#fff" stroke-width="2.0"/>
<path d="M416.3,452.45 A9.9,4.5 0 0 0 436.09999999999997,452.155" fill="none" stroke="#d8d8d8" stroke-width="1.2"/>
<path d="M413.6,461.3 A12.600000000000001,5.7 0 0 0 438.79999999999995,461.3" fill="none" stroke="#fff" stroke-width="2.0"/>
<path d="M416.3,458.35 A9.9,4.5 0 0 0 436.09999999999997,458.055" fill="none" stroke="#d8d8d8" stroke-width="1.2"/>
<path d="M413.6,467.2 A12.600000000000001,5.7 0 0 0 438.79999999999995,467.2" fill="none" stroke="#fff" stroke-width="2.0"/>
<path d="M416.3,464.25 A9.9,4.5 0 0 0 436.09999999999997,463.955" fill="none" stroke="#d8d8d8" stroke-width="1.2"/>
<path d="M413.6,473.1 A12.600000000000001,5.7 0 0 0 438.79999999999995,473.1" fill="none" stroke="#fff" stroke-width="2.0"/>
<path d="M416.3,470.15000000000003 A9.9,4.5 0 0 0 436.09999999999997,469.855" fill="none" stroke="#d8d8d8" stroke-width="1.2"/>
<path d="M413.6,479.0 A12.600000000000001,5.7 0 0 0 438.79999999999995,479.0" fill="none" stroke="#fff" stroke-width="2.0"/>
<path d="M416.3,476.05 A9.9,4.5 0 0 0 436.09999999999997,475.755" fill="none" stroke="#d8d8d8" stroke-width="1.2"/>
<path d="M413.6,484.9 A12.600000000000001,5.7 0 0 0 438.79999999999995,484.9" fill="none" stroke="#fff" stroke-width="2.0"/>
<path d="M416.3,481.95 A9.9,4.5 0 0 0 436.09999999999997,481.655" fill="none" stroke="#d8d8d8" stroke-width="1.2"/>
<path d="M413.6,490.8 A12.600000000000001,5.7 0 0 0 438.79999999999995,490.8" fill="none" stroke="#fff" stroke-width="2.0"/>
<path d="M416.3,487.85 A9.9,4.5 0 0 0 436.09999999999997,487.555" fill="none" stroke="#d8d8d8" stroke-width="1.2"/>
<path class="w" d="M361.8,549.5 L361.8,563.5 A13.2,4 0 0 0 388.2,563.5 L388.2,549.5 C388.2,543.5 384.26,541.5 382.26,540.5 A7.26,3.6 0 0 0 367.74,540.5 C365.74,541.5 361.8,543.5 361.8,549.5 Z"/>
<ellipse class="d" cx="375" cy="540.5" rx="7.26" ry="3.6" />
<ellipse class="t" cx="375" cy="540.8" rx="5.06" ry="2.0" />
<path class="t" d="M366.24,543.0 A8.76,4 0 0 0 383.76,543.0" stroke-width="1.4"/>
<path class="t" d="M361.8,549.5 A13.2,4 0 0 0 388.2,549.5"/>
<path class="w" d="M414.4,520.3 L414.4,533.3 A12.3,4 0 0 0 439.0,533.3 L439.0,520.3 C439.0,514.3 435.465,512.3 433.465,511.3 A6.765000000000001,3.6 0 0 0 419.935,511.3 C417.935,512.3 414.4,514.3 414.4,520.3 Z"/>
<ellipse class="d" cx="426.7" cy="511.3" rx="6.765000000000001" ry="3.6" />
<ellipse class="t" cx="426.7" cy="511.6" rx="4.565" ry="2.0" />
<path class="t" d="M418.435,513.8 A8.265,4 0 0 0 434.965,513.8" stroke-width="1.4"/>
<path class="t" d="M414.4,520.3 A12.3,4 0 0 0 439.0,520.3"/>
<path d="M375.6,668 V737" stroke="#fff" stroke-width="4" fill="none"/>
<path class="l" d="M375.6,573.5 V740" stroke-dasharray="58 3 12 3"/>
<path d="M427.2,630 V708" stroke="#fff" stroke-width="4" fill="none"/>
<path class="l" d="M427.2,543.3 V711" stroke-dasharray="62 3 12 3"/>
<path class="l" d="M693.4,496 V612" stroke-dasharray="40 4 10 4"/>
<path class="w" d="M678,473.5 A15.7,8.5 0 0 1 709.4,473.5 V483.3 A15.7,8.5 0 0 1 678,483.3 Z"/>
<ellipse class="d" cx="693.7" cy="473.5" rx="15.7" ry="8.5" />
<ellipse class="t" cx="693.7" cy="474.5" rx="12" ry="5.5" />
<path class="w" d="M751.7,545.0 L751.8,543.2 L752.1,541.5 L752.5,539.9 L753.0,538.4 L753.7,537.0 L754.5,535.7 L755.4,534.6 L756.5,533.7 L757.6,532.9 L758.9,532.2 L771.9,526.2 L773.2,525.8 L774.6,525.5 L776.1,525.3 L777.6,525.4 L779.2,525.6 L780.8,526.0 L782.5,526.6 L784.1,527.3 L785.7,528.2 L787.4,529.3 L788.9,530.5 L790.5,531.8 L792.0,533.2 L793.4,534.8 L794.8,536.5 L796.0,538.2 L797.2,540.1 L798.3,542.0 L799.2,543.9 L800.1,545.9 L800.8,547.9 L801.4,549.9 L801.8,551.9 L802.1,553.8 L802.3,555.8 L802.3,557.6 L802.2,559.4 L801.9,561.1 L801.5,562.7 L801.0,564.2 L800.3,565.6 L799.5,566.9 L798.6,568.0 L797.5,568.9 L796.4,569.7 L795.1,570.4 L782.1,576.4 L780.8,576.8 L779.4,577.1 L777.9,577.3 L776.4,577.2 L774.8,577.0 L773.2,576.6 L771.5,576.0 L769.9,575.3 L768.3,574.4 L766.6,573.3 L765.1,572.1 L763.5,570.8 L762.0,569.4 L760.6,567.8 L759.2,566.1 L758.0,564.4 L756.8,562.5 L755.7,560.6 L754.8,558.7 L753.9,556.7 L753.2,554.7 L752.6,552.7 L752.2,550.7 L751.9,548.8 L751.7,546.8Z"/>
<ellipse class="d" cx="770.5" cy="554.3" rx="25" ry="16" transform="rotate(59 770.5 554.3)" />
<path class="t" d="M762,533 C778,540 788,556 786,574"/>
<path class="t" d="M765,531 C782,538 791,556 789,573"/>
<path class="w" d="M225.8,629.5 L225.9,627.9 L226.1,626.3 L226.4,624.7 L226.8,623.1 L227.3,621.5 L227.9,619.9 L228.7,618.3 L229.5,616.8 L230.4,615.3 L231.4,613.8 L232.5,612.5 L233.6,611.2 L234.8,610.1 L236.1,609.0 L237.4,608.0 L238.7,607.2 L240.0,606.5 L241.3,605.9 L242.7,605.4 L244.0,605.1 L245.3,605.0 L246.6,604.9 L247.8,605.0 L249.0,605.3 L250.1,605.7 L259.1,609.7 L260.2,610.2 L261.2,610.8 L262.1,611.6 L262.9,612.5 L263.6,613.5 L264.2,614.6 L264.7,615.9 L265.1,617.2 L265.4,618.6 L265.5,620.0 L265.6,621.5 L265.5,623.1 L265.3,624.7 L265.0,626.3 L264.6,627.9 L264.1,629.5 L263.4,631.1 L262.7,632.7 L261.9,634.2 L261.0,635.7 L260.0,637.2 L258.9,638.5 L257.8,639.8 L256.6,640.9 L255.3,642.0 L254.0,643.0 L252.7,643.8 L251.4,644.5 L250.1,645.1 L248.7,645.6 L247.4,645.9 L246.1,646.0 L244.8,646.1 L243.6,646.0 L242.4,645.7 L241.3,645.3 L232.3,641.3 L231.2,640.8 L230.2,640.2 L229.3,639.4 L228.5,638.5 L227.8,637.5 L227.2,636.4 L226.7,635.1 L226.3,633.8 L226.0,632.4 L225.9,631.0Z"/>
<ellipse class="d" cx="250.2" cy="627.5" rx="20" ry="13.5" transform="rotate(-60 250.2 627.5)" />
<path class="w" d="M665.8,831.3 L665.9,829.6 L666.1,828.0 L666.5,826.5 L666.9,825.0 L667.5,823.7 L668.2,822.4 L669.0,821.3 L669.9,820.3 L670.9,819.4 L672.0,818.6 L673.1,818.0 L674.3,817.5 L675.6,817.2 L677.0,817.0 L678.3,817.0 L679.7,817.1 L681.1,817.4 L682.5,817.8 L683.9,818.4 L689.9,821.4 L691.3,822.1 L692.7,822.9 L694.0,823.9 L695.3,825.0 L696.6,826.2 L697.7,827.5 L698.8,829.0 L699.9,830.5 L700.8,832.0 L701.6,833.7 L702.3,835.3 L702.9,837.1 L703.4,838.8 L703.8,840.5 L704.1,842.3 L704.2,844.0 L704.2,845.7 L704.1,847.4 L703.9,849.0 L703.5,850.5 L703.1,852.0 L702.5,853.3 L701.8,854.6 L701.0,855.7 L700.1,856.7 L699.1,857.6 L698.0,858.4 L696.9,859.0 L695.7,859.5 L694.4,859.8 L693.0,860.0 L691.7,860.0 L690.3,859.9 L688.9,859.6 L687.5,859.2 L686.1,858.6 L680.1,855.6 L678.7,854.9 L677.3,854.1 L676.0,853.1 L674.7,852.0 L673.4,850.8 L672.3,849.5 L671.2,848.0 L670.1,846.5 L669.2,845.0 L668.4,843.3 L667.7,841.7 L667.1,839.9 L666.6,838.2 L666.2,836.5 L665.9,834.7 L665.8,833.0Z"/>
<ellipse class="d" cx="688" cy="840" rx="21" ry="15" transform="rotate(65 688 840)" />
<ellipse class="d" cx="688" cy="840" rx="18" ry="12" transform="rotate(65 688 840)" />
<path class="t" d="M690,824 C694,836 690,850 682,855"/>
<path class="w" d="M209.4,859.8 L209.6,858.2 L209.8,856.8 L210.1,855.4 L210.6,854.1 L211.2,852.9 L211.8,851.8 L212.6,850.9 L213.5,850.1 L214.5,849.5 L215.6,848.9 L225.6,844.9 L226.7,844.6 L227.9,844.4 L229.2,844.3 L230.5,844.4 L231.8,844.6 L233.2,845.0 L234.6,845.6 L236.0,846.2 L237.4,847.1 L238.8,848.0 L240.1,849.1 L241.4,850.3 L242.7,851.6 L243.9,853.0 L245.1,854.5 L246.2,856.1 L247.2,857.8 L248.1,859.4 L248.9,861.2 L249.6,862.9 L250.2,864.7 L250.7,866.4 L251.1,868.2 L251.4,869.9 L251.5,871.6 L251.6,873.2 L251.4,874.8 L251.2,876.2 L250.9,877.6 L250.4,878.9 L249.8,880.1 L249.2,881.2 L248.4,882.1 L247.5,882.9 L246.5,883.5 L245.4,884.1 L235.4,888.1 L234.3,888.4 L233.1,888.6 L231.8,888.7 L230.5,888.6 L229.2,888.4 L227.8,888.0 L226.4,887.4 L225.0,886.8 L223.6,885.9 L222.2,885.0 L220.9,883.9 L219.6,882.7 L218.3,881.4 L217.1,880.0 L215.9,878.5 L214.8,876.9 L213.8,875.2 L212.9,873.6 L212.1,871.8 L211.4,870.1 L210.8,868.3 L210.3,866.6 L209.9,864.8 L209.6,863.1 L209.5,861.4Z"/>
<ellipse class="d" cx="225.5" cy="868.5" rx="22" ry="13.5" transform="rotate(60 225.5 868.5)" />
<ellipse class="d" cx="225.5" cy="868.5" rx="19.5" ry="11.0" transform="rotate(60 225.5 868.5)" />
<path class="t" d="M221,851 C224,866 230,880 240,884"/>
<path class="w" d="M636.0,842.7 L636.0,842.1 L636.0,841.6 L636.1,841.0 L636.3,840.5 L636.5,840.0 L636.7,839.5 L637.0,839.1 L637.3,838.7 L637.6,838.4 L638.0,838.0 L638.4,837.8 L638.8,837.5 L639.3,837.4 L639.8,837.2 L640.3,837.2 L640.8,837.2 L641.3,837.2 L641.8,837.3 L642.4,837.4 L642.9,837.6 L643.4,837.9 L649.4,840.9 L649.9,841.1 L650.4,841.5 L650.9,841.8 L651.3,842.2 L651.8,842.7 L652.1,843.2 L652.5,843.7 L652.9,844.2 L653.1,844.8 L653.4,845.3 L653.6,845.9 L653.8,846.5 L653.9,847.1 L654.0,847.7 L654.0,848.3 L654.0,848.9 L654.0,849.4 L653.9,850.0 L653.7,850.5 L653.5,851.0 L653.3,851.5 L653.0,851.9 L652.7,852.3 L652.4,852.6 L652.0,853.0 L651.6,853.2 L651.2,853.5 L650.7,853.6 L650.2,853.8 L649.7,853.8 L649.2,853.8 L648.7,853.8 L648.2,853.7 L647.6,853.6 L647.1,853.4 L646.6,853.1 L640.6,850.1 L640.1,849.9 L639.6,849.5 L639.1,849.2 L638.7,848.8 L638.2,848.3 L637.9,847.8 L637.5,847.3 L637.1,846.8 L636.9,846.2 L636.6,845.7 L636.4,845.1 L636.2,844.5 L636.1,843.9 L636.0,843.3Z"/>
<ellipse class="d" cx="648" cy="847" rx="7.2" ry="5.6" transform="rotate(60 648 847)" />
<path class="w" d="M341.1,980 A32.7,17.5 0 0 1 406.5,980 V989 A32.7,17.5 0 0 1 341.1,989 Z"/>
<ellipse class="d" cx="373.8" cy="980" rx="32.7" ry="17.5" />
<ellipse class="d" cx="373.8" cy="981.5" rx="27.200000000000003" ry="12.5" />
<path class="t" d="M347.1,979.5 A26.700000000000003,12.0 0 0 1 400.5,979.5"/>
<path class="d" d="M341.1,989 A32.7,17.5 0 0 0 406.5,989"/>
<path class="w" d="M396.7,951.5 A29.6,16 0 0 1 455.90000000000003,951.5 V959.5 A29.6,16 0 0 1 396.7,959.5 Z"/>
<ellipse class="d" cx="426.3" cy="951.5" rx="29.6" ry="16" />
<ellipse class="d" cx="426.3" cy="953.0" rx="24.1" ry="11" />
<path class="t" d="M402.7,951.0 A23.6,10.5 0 0 1 449.90000000000003,951.0"/>
<path class="d" d="M396.7,959.5 A29.6,16 0 0 0 455.90000000000003,959.5"/>
<path class="f" d="M367.5,1031.3 A6,2.5 0 0 1 379.5,1031.3 V1133 L367.5,1133 Z"/>
<path class="d" d="M367.5,1031.3 A6,2.5 0 0 1 379.5,1031.3"/>
<path class="t" d="M367.5,1031.3 A6,2.5 0 0 0 379.5,1031.3"/>
<path class="t" d="M367.5,1043.3 A6,2 0 0 0 379.5,1043.3"/>
<path class="t" d="M367.5,1045.3 A6,2 0 0 0 379.5,1045.3"/>
<path class="w" d="M343.4,1151.5 A30.1,14.2 0 0 1 403.6,1151.5 V1155.5 A30.1,14.2 0 0 1 343.4,1155.5 Z"/>
<ellipse class="w" cx="373.5" cy="1151.5" rx="30.1" ry="14.2" />
<path class="t" d="M344.6,1153.3 A28.900000000000002,13.6 0 0 0 402.4,1153.3"/>
<path class="d" d="M357.9,1148.5 A15.6,8.8 0 0 0 389.1,1148.5" stroke-width="1.3"/>
<path class="f" d="M367.5,1031.3 V1133 C367.5,1143.5 362.58,1147.0 357.9,1148.5 A15.6,8.8 0 0 0 389.1,1148.5 C384.42,1147.0 379.5,1143.5 379.5,1133 V1031.3 Z"/>
<path class="d" d="M367.5,1031.3 V1133 C367.5,1143.5 362.58,1147.0 357.9,1148.5"/>
<path class="d" d="M379.5,1031.3 V1133 C379.5,1143.5 384.42,1147.0 389.1,1148.5"/>
<path class="f" d="M424.40000000000003,999.2 A6.2,2.5 0 0 1 436.8,999.2 V1101 L424.40000000000003,1101 Z"/>
<path class="d" d="M424.40000000000003,999.2 A6.2,2.5 0 0 1 436.8,999.2"/>
<path class="t" d="M424.40000000000003,999.2 A6.2,2.5 0 0 0 436.8,999.2"/>
<path class="t" d="M424.40000000000003,1011.2 A6.2,2 0 0 0 436.8,1011.2"/>
<path class="t" d="M424.40000000000003,1013.2 A6.2,2 0 0 0 436.8,1013.2"/>
<path class="w" d="M404.40000000000003,1119 A26.2,12.2 0 0 1 456.8,1119 V1123 A26.2,12.2 0 0 1 404.40000000000003,1123 Z"/>
<ellipse class="w" cx="430.6" cy="1119" rx="26.2" ry="12.2" />
<path class="t" d="M405.6,1120.8 A25.0,11.6 0 0 0 455.6,1120.8"/>
<path class="d" d="M415.40000000000003,1117 A15.2,8.1 0 0 0 445.8,1117" stroke-width="1.3"/>
<path class="f" d="M424.40000000000003,999.2 V1101 C424.40000000000003,1112 419.96000000000004,1115.5 415.40000000000003,1117 A15.2,8.1 0 0 0 445.8,1117 C441.24,1115.5 436.8,1112 436.8,1101 V999.2 Z"/>
<path class="d" d="M424.40000000000003,999.2 V1101 C424.40000000000003,1112 419.96000000000004,1115.5 415.40000000000003,1117"/>
<path class="d" d="M436.8,999.2 V1101 C436.8,1112 441.24,1115.5 445.8,1117"/>
<g class="l">
<path d="M251.3,629 L291,651.3 M296.8,655.2 L318.1,667.8"/>
<path d="M765.4,558.9 L727,580.2"/>
<path d="M257.8,851.2 L312,820"/>
<path d="M579.4,806.2 L641.3,840"/>
<path d="M685.8,713.2 L743,747.1 L703.3,770.3 M687.8,779 L638.4,808.1 L665.5,825.5"/>
<path d="M576.5,775.2 L612.3,795.5 M616,797.5 L631.6,806.2"/>
</g>
<g transform="translate(0,0)"><path class="d" d="M395.6,772.2 L425.1,758.3 C428.2,757 431.3,757 434.3,758.6 L462.2,776.9 C465.3,779.2 465.3,781.5 463,783.8 L435.9,798.6 C432.8,800.1 429.7,800.1 426.6,798.6 L398,783.8 C396,782 395.5,780 397,778 C397.5,776 396.5,774 395.6,772.2 Z"/><path class="t" d="M393.5,770 L424.5,755.6 C428,754.2 431.6,754.2 435,756 L464,775"/></g>
<g transform="translate(110.4,-64)"><path class="d" d="M395.6,772.2 L425.1,758.3 C428.2,757 431.3,757 434.3,758.6 L462.2,776.9 C465.3,779.2 465.3,781.5 463,783.8 L435.9,798.6 C432.8,800.1 429.7,800.1 426.6,798.6 L398,783.8 C396,782 395.5,780 397,778 C397.5,776 396.5,774 395.6,772.2 Z"/><path class="t" d="M393.5,770 L424.5,755.6 C428,754.2 431.6,754.2 435,756 L464,775"/></g>
<g transform="translate(217.8,-128)"><path class="d" d="M395.6,772.2 L425.1,758.3 C428.2,757 431.3,757 434.3,758.6 L462.2,776.9 C465.3,779.2 465.3,781.5 463,783.8 L435.9,798.6 C432.8,800.1 429.7,800.1 426.6,798.6 L398,783.8 C396,782 395.5,780 397,778 C397.5,776 396.5,774 395.6,772.2 Z"/><path class="t" d="M393.5,770 L424.5,755.6 C428,754.2 431.6,754.2 435,756 L464,775"/></g>
<g fill="#fff" stroke="#fff" stroke-width="3.2" stroke-linejoin="round" opacity="0.9">
<g transform="translate(468,719.5)"><rect x="0" y="1" width="28" height="2.6"/><rect x="6.5" y="0" width="2.8" height="5"/><rect x="19" y="0" width="2.8" height="5"/><rect x="3.5" y="6.3" width="21" height="2.3"/><rect x="3" y="6.3" width="3" height="7.5"/><rect x="22" y="6.3" width="3" height="7.5"/><rect x="12.4" y="4.5" width="3.3" height="10"/><rect x="0" y="13.2" width="28" height="2.5"/><polygon points="11,15.5 15,15.5 4.5,21 0,21"/><polygon points="13,15.5 17,15.5 28,21 23.5,21"/></g>
<g transform="translate(502,718.8)"><polygon points="13.5,0 27,8.5 21.5,8.5 13.5,3.6 5.5,8.5 0,8.5"/><rect x="6" y="7.3" width="15" height="2.2"/><rect x="2" y="11.3" width="23.5" height="2.5"/><rect x="11.8" y="8" width="3.6" height="12"/><polygon points="6.5,14.8 9,14.8 10,18 7.5,18"/><polygon points="18,14.8 20.5,14.8 19.5,18 17,18"/><rect x="0" y="18.9" width="27" height="2.8"/></g>
<g transform="translate(535.6,719.2)"><polygon points="0.5,0.5 4,0.5 9,6 6,7.5"/><polygon points="0.5,10 8,3.5 8.5,6.5 1,13"/><rect x="5" y="3" width="3.2" height="18.3"/><polygon points="0.5,16 5,18.5 5,21.3 0.5,19"/><rect x="9" y="1.5" width="2.6" height="13"/><polygon points="12.3,0.5 15.3,0.5 15.3,17 12,21.3 9.5,21.3 12.3,16"/><rect x="16" y="0.5" width="11" height="2.5"/><rect x="17.5" y="5" width="9.5" height="2.2"/><rect x="17.5" y="5" width="2.6" height="14"/><rect x="24.4" y="5" width="2.6" height="14"/><rect x="21" y="2.5" width="2.9" height="18.8"/></g>
</g>
<g fill="#3d659b" stroke="#3d659b" stroke-width="0.9" stroke-linejoin="round">
<g transform="translate(468,719.5)"><rect x="0" y="1" width="28" height="2.6"/><rect x="6.5" y="0" width="2.8" height="5"/><rect x="19" y="0" width="2.8" height="5"/><rect x="3.5" y="6.3" width="21" height="2.3"/><rect x="3" y="6.3" width="3" height="7.5"/><rect x="22" y="6.3" width="3" height="7.5"/><rect x="12.4" y="4.5" width="3.3" height="10"/><rect x="0" y="13.2" width="28" height="2.5"/><polygon points="11,15.5 15,15.5 4.5,21 0,21"/><polygon points="13,15.5 17,15.5 28,21 23.5,21"/></g>
<g transform="translate(502,718.8)"><polygon points="13.5,0 27,8.5 21.5,8.5 13.5,3.6 5.5,8.5 0,8.5"/><rect x="6" y="7.3" width="15" height="2.2"/><rect x="2" y="11.3" width="23.5" height="2.5"/><rect x="11.8" y="8" width="3.6" height="12"/><polygon points="6.5,14.8 9,14.8 10,18 7.5,18"/><polygon points="18,14.8 20.5,14.8 19.5,18 17,18"/><rect x="0" y="18.9" width="27" height="2.8"/></g>
<g transform="translate(535.6,719.2)"><polygon points="0.5,0.5 4,0.5 9,6 6,7.5"/><polygon points="0.5,10 8,3.5 8.5,6.5 1,13"/><rect x="5" y="3" width="3.2" height="18.3"/><polygon points="0.5,16 5,18.5 5,21.3 0.5,19"/><rect x="9" y="1.5" width="2.6" height="13"/><polygon points="12.3,0.5 15.3,0.5 15.3,17 12,21.3 9.5,21.3 12.3,16"/><rect x="16" y="0.5" width="11" height="2.5"/><rect x="17.5" y="5" width="9.5" height="2.2"/><rect x="17.5" y="5" width="2.6" height="14"/><rect x="24.4" y="5" width="2.6" height="14"/><rect x="21" y="2.5" width="2.9" height="18.8"/></g>
</g>
<!-- leader lines -->
<g class="l">
<line x1="479.6" y1="365.6" x2="439.8" y2="387.8"/>
<line x1="320.8" y1="397.1" x2="358" y2="415.5"/>
<line x1="479.6" y1="411" x2="442.3" y2="418.5"/>
<line x1="321.5" y1="440.6" x2="360" y2="446.4"/>
<line x1="322.8" y1="501.8" x2="360" y2="496"/>
<line x1="324" y1="565.5" x2="361.8" y2="555.4"/>
<line x1="480" y1="467.8" x2="441" y2="469.6"/>
<line x1="483.9" y1="536.3" x2="439" y2="528.7"/>
<line x1="750.5" y1="456" x2="709.4" y2="474.3"/>
<line x1="838.5" y1="573" x2="799.5" y2="565.2"/>
<line x1="835.7" y1="646.2" x2="784.6" y2="653.6"/>
<line x1="734.7" y1="822.6" x2="703.8" y2="830.7"/>
<line x1="634.1" y1="889.7" x2="643.5" y2="852.4"/>
<line x1="199.7" y1="661.2" x2="230.7" y2="642.3"/>
<line x1="235.7" y1="938.6" x2="234" y2="891.2"/>
<line x1="498.4" y1="942" x2="456" y2="952.2"/>
<line x1="301" y1="981.6" x2="340.8" y2="986"/>
<line x1="302.8" y1="1101.6" x2="367" y2="1084.5"/>
<line x1="500.7" y1="1055.5" x2="437.6" y2="1052"/>
</g>
</svg>
</body></html>
